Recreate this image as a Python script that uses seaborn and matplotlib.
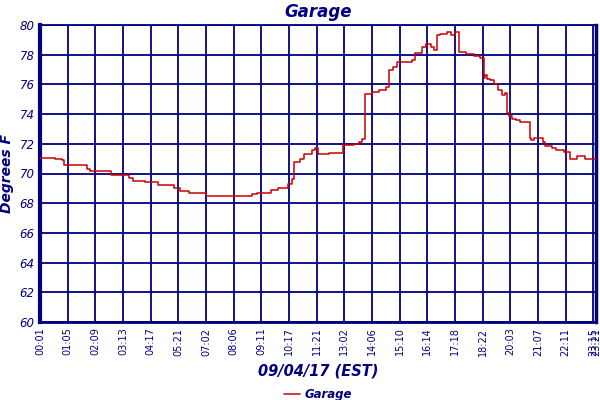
import matplotlib
matplotlib.use("Agg")
import matplotlib.pyplot as plt
import seaborn as sns
import pandas as pd

# sample index (readings) and temperature
sample_idx = [0, 11, 16, 17, 34, 36, 51, 64, 67, 76, 85, 97, 101, 108, 120,
              153, 157, 167, 172, 179, 182, 184, 188, 191, 197, 199, 201, 209,
              219, 227, 231, 233, 235, 240, 245, 250, 252, 255, 258, 269, 271,
              276, 279, 283, 285, 287, 289, 294, 297, 300, 303, 308, 314, 318,
              321, 322, 323, 325, 328, 331, 334, 336, 338, 339, 341, 344, 347,
              354, 355, 357, 364, 365, 370, 373, 379, 383, 388, 394, 402]
temps = [71.05, 71.0, 70.9, 70.6, 70.3, 70.2, 69.9, 69.7, 69.5, 69.4, 69.2,
         69.0, 68.8, 68.7, 68.5, 68.6, 68.7, 68.9, 69.0, 69.3, 69.6, 70.8,
         71.0, 71.3, 71.6, 71.7, 71.3, 71.4, 71.9, 72.0, 72.15, 72.3, 75.35,
         75.5, 75.65, 75.8, 77.0, 77.2, 77.5, 77.65, 78.1, 78.55, 78.7, 78.5,
         78.35, 79.3, 79.4, 79.5, 79.35, 79.5, 78.2, 78.05, 77.9, 77.75, 76.4,
         76.6, 76.35, 76.3, 76.0, 75.6, 75.3, 75.4, 74.1, 73.9, 73.7, 73.6,
         73.5, 72.4, 72.25, 72.4, 72.15, 71.85, 71.7, 71.6, 71.45, 71.0, 71.2,
         71.0, 71.0]

tick_idx = [0, 20, 40, 60, 80, 100, 120, 140, 160, 180, 200, 220, 240, 260,
            280, 300, 320, 340, 360, 380, 400, 402]
tick_labels = ["00:01", "01:05", "02:09", "03:13", "04:17", "05:21", "07:02",
               "08:06", "09:11", "10:17", "11:21", "13:02", "14:06", "15:10",
               "16:14", "17:18", "18:22", "20:03", "21:07", "22:11", "23:15",
               "23:21"]
y_ticks = [60, 62, 64, 66, 68, 70, 72, 74, 76, 78, 80]

navy = "#000080"
red = "#cc0000"

sns.set_theme(style="white")
plt.rcParams["font.family"] = ["DejaVu Sans"]

df = pd.DataFrame({"idx": sample_idx, "temp": temps})

fig = plt.figure(figsize=(6, 4), dpi=100)
ax = fig.add_axes([40/600, 78/400, 556/600, 297/400])

sns.lineplot(data=df, x="idx", y="temp", ax=ax, color=red, linewidth=1.1,
             drawstyle="steps-post", label="Garage", zorder=5)

ax.set_xlim(0, 402)
ax.set_ylim(60, 80)
ax.set_xticks(tick_idx)
ax.set_xticklabels(tick_labels, rotation=90, fontsize=7, color=navy)
ax.set_yticks(y_ticks)
ax.set_yticklabels([str(v) for v in y_ticks], fontsize=8.5, color=navy,
                   style="italic")
ax.tick_params(axis="both", length=0, pad=4)
ax.grid(True, color=navy, linewidth=1.3)
ax.set_axisbelow(True)

for side in ["left", "bottom", "right", "top"]:
    ax.spines[side].set_color(navy)
ax.spines["left"].set_linewidth(3)
ax.spines["bottom"].set_linewidth(2)
ax.spines["right"].set_linewidth(2.5)
ax.spines["top"].set_linewidth(1.3)

ax.set_title("Garage", fontsize=12, color=navy, fontweight="bold",
             style="italic", pad=6)
ax.set_xlabel("09/04/17 (EST)", fontsize=10.5, color=navy, fontweight="bold",
              style="italic", labelpad=6)
ax.set_ylabel("Degrees F", fontsize=10, color=navy, fontweight="bold",
              style="italic")
ax.yaxis.set_label_coords(-0.046, 0.5)

leg = ax.legend(loc="center", bbox_to_anchor=(0.5, -0.245), frameon=False,
                fontsize=8.5, handlelength=1.4, handletextpad=0.4)
for t in leg.get_texts():
    t.set_color(navy)
    t.set_fontweight("bold")
    t.set_style("italic")

fig.savefig("out.png", dpi=100)
